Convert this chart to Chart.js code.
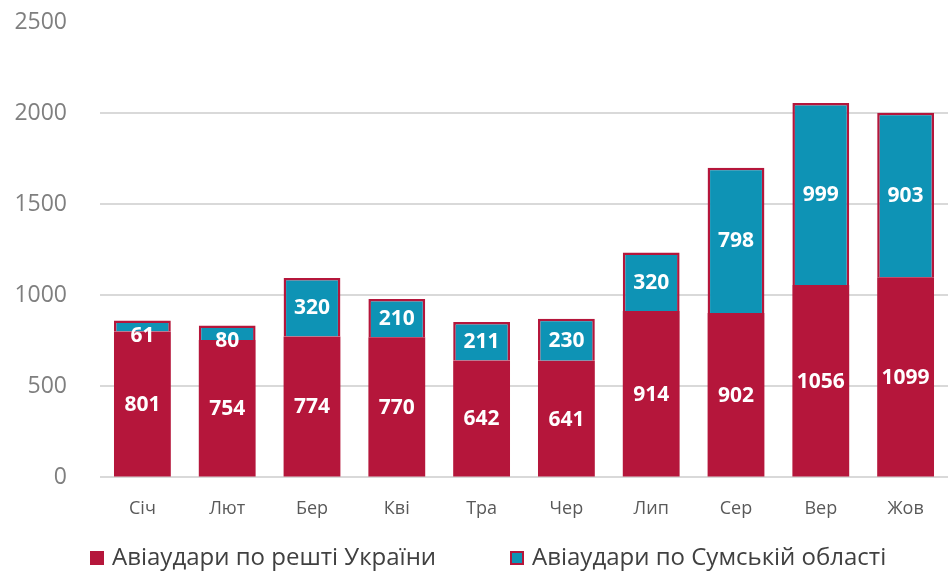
<!DOCTYPE html>
<html>
<head>
<meta charset="utf-8">
<script src="https://cdn.jsdelivr.net/npm/chart.js@4.4.1/dist/chart.umd.min.js"></script>
<style>
  html, body { margin: 0; padding: 0; background: #fff; }
  #wrap { width: 948px; height: 574px; position: relative; }
</style>
</head>
<body>
<div id="wrap"><canvas id="chart"></canvas></div>
<script>
const months = ['Січ', 'Лют', 'Бер', 'Кві', 'Тра', 'Чер', 'Лип', 'Сер', 'Вер', 'Жов'];
const restUkraine = [801, 754, 774, 770, 642, 641, 914, 902, 1056, 1099];
const sumyRegion = [61, 80, 320, 210, 211, 230, 320, 798, 999, 903];
const yTicks = [0, 500, 1000, 1500, 2000, 2500];

const RED = '#B5163B';
const TEAL = '#0E93B5';
const FONT = "'Open Sans', 'DejaVu Sans', sans-serif";

// white value labels in the middle of each segment
const barLabels = {
  id: 'barLabels',
  afterDatasetsDraw(chart) {
    const { ctx } = chart;
    ctx.save();
    ctx.fillStyle = '#fff';
    ctx.font = `bold 21px ${FONT}`;
    ctx.textAlign = 'center';
    ctx.textBaseline = 'middle';
    chart.data.datasets.forEach((ds, i) => {
      chart.getDatasetMeta(i).data.forEach((bar, j) => {
        const top = Math.min(bar.y, bar.base);
        const y = Math.max((bar.y + bar.base) / 2, top + 15);
        ctx.fillText(String(ds.data[j]), bar.x, y + 1);
      });
    });
    ctx.restore();
  }
};

// legend drawn under the axis, two items at fixed spots
const bottomLegend = {
  id: 'bottomLegend',
  afterDraw(chart) {
    const { ctx } = chart;
    const startX = [90, 510];
    const y = 558;
    ctx.save();
    ctx.font = `24px ${FONT}`;
    ctx.textBaseline = 'middle';
    ctx.textAlign = 'left';
    chart.data.datasets.forEach((ds, i) => {
      const x = startX[i];
      ctx.fillStyle = ds.backgroundColor;
      ctx.fillRect(x, y - 7, 14, 14);
      ctx.strokeStyle = RED;
      ctx.lineWidth = 2;
      ctx.strokeRect(x + 1, y - 6, 12, 12);
      ctx.fillStyle = '#404040';
      ctx.fillText(ds.label, x + 22, y);
    });
    ctx.restore();
  }
};

new Chart(document.getElementById('chart'), {
  type: 'bar',
  data: {
    labels: months,
    datasets: [
      {
        label: 'Авіаудари по решті України',
        data: restUkraine,
        backgroundColor: RED,
        borderColor: RED,
        borderWidth: 0,
        categoryPercentage: 0.67,
        barPercentage: 1
      },
      {
        label: 'Авіаудари по Сумській області',
        data: sumyRegion,
        backgroundColor: TEAL,
        borderColor: RED,
        borderWidth: 2.5,
        borderSkipped: 'bottom',
        categoryPercentage: 0.67,
        barPercentage: 1
      }
    ]
  },
  options: {
    responsive: true,
    maintainAspectRatio: false,
    animation: false,
    layout: { padding: { top: 0, right: 0, left: 0, bottom: 41 } },
    scales: {
      x: {
        stacked: true,
        grid: { display: false },
        border: { display: false },
        ticks: { color: '#595959', font: { family: FONT, size: 18 }, padding: 13 }
      },
      y: {
        stacked: true,
        min: 0,
        max: 2500,
        afterBuildTicks: (axis) => { axis.ticks = yTicks.map(v => ({ value: v })); },
        afterFit: (axis) => {
          axis.width = 100;
          // tick padding is horizontal here; keep it out of the vertical overflow
          axis.paddingTop = 22;
          axis.paddingBottom = 0;
        },
        grid: {
          color: (c) => c.tick && c.tick.value === 2500 ? 'rgba(0,0,0,0)' : '#D9D9D9',
          lineWidth: 2,
          drawTicks: false
        },
        border: { display: false },
        ticks: {
          color: '#7F7F7F',
          font: { family: FONT, size: 23 },
          padding: 33,
          callback: (v) => String(v)
        }
      }
    },
    plugins: {
      legend: { display: false },
      tooltip: { enabled: false }
    }
  },
  plugins: [barLabels, bottomLegend]
});
</script>
</body>
</html>
